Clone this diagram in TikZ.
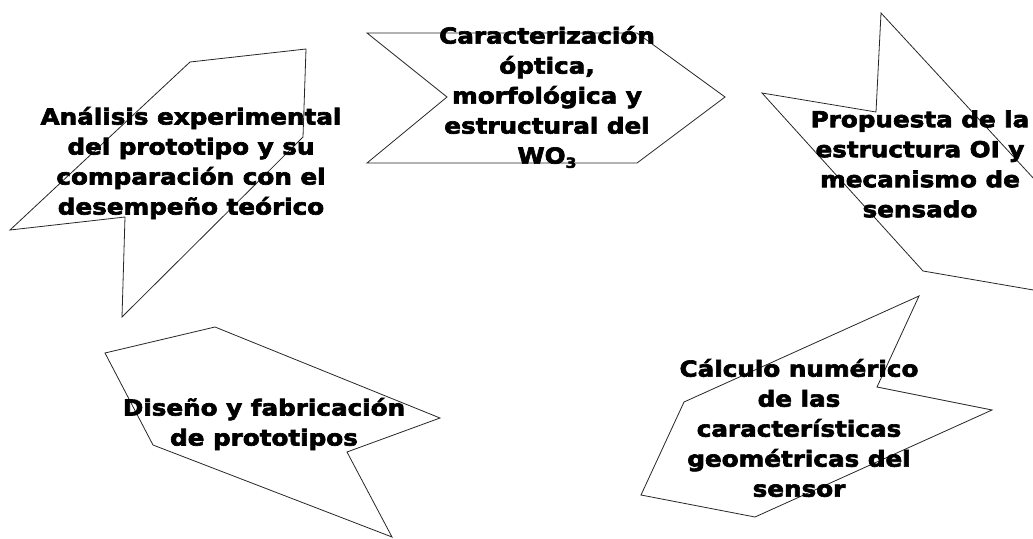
\documentclass[tikz,border=0pt]{standalone}
\usepackage{fontspec}
\setmainfont{DejaVu Sans}
\newfontfamily\heavyfont[FakeStretch=1.12,FakeBold=3]{DejaVu Sans Bold}
\begin{document}
\begin{tikzpicture}[x=1pt,y=-1pt,
  shp/.style={draw=black!85, line width=0.8pt, line join=miter},
  lbl/.style={font=\heavyfont\fontsize{22}{30}\selectfont, align=center, inner sep=0pt, text=black}]
\useasboundingbox (0,0) rectangle (1033,538);
\clip (0,0) rectangle (1033,538);
% shapes
\draw[shp] (190,62) -- (306,49) -- (303,137) -- (122,317) -- (125,217) -- (10,230) -- cycle;
\draw[shp] (367,33) -- (637,33) -- (725,97) -- (637,163) -- (367,163) -- (447,97) -- cycle;
\draw[shp] (881,13) -- (1047,193) -- (1045,292) -- (923,271) -- (762,93) -- (876,112) -- cycle;
\draw[shp] (105,353) -- (215,327) -- (440,418) -- (347,452) -- (392,537) -- (153,445) -- cycle;
\draw[shp] (919,296) -- (877,387) -- (992,410) -- (755,517) -- (641,495) -- (684,402) -- cycle;
% labels
\node[lbl] (a) at (191,163) {Análisis experimental\\del prototipo y su\\comparación con el\\desempeño teórico};
\node[lbl] (c) at (547,97) {Caracterización\\óptica,\\morfológica y\\estructural del\\WO\raisebox{-0.35ex}{\fontsize{14}{14}\selectfont 3}};
\node[lbl] (p) at (920,164) {Propuesta de la\\estructura OI y\\mecanismo de\\sensado};
\node[lbl] (d) at (264,424) {Diseño y fabricación\\de prototipos};
\node[lbl] (k) at (799,428) {Cálculo numérico\\de las\\características\\geométricas del\\sensor};
\end{tikzpicture}
\end{document}
